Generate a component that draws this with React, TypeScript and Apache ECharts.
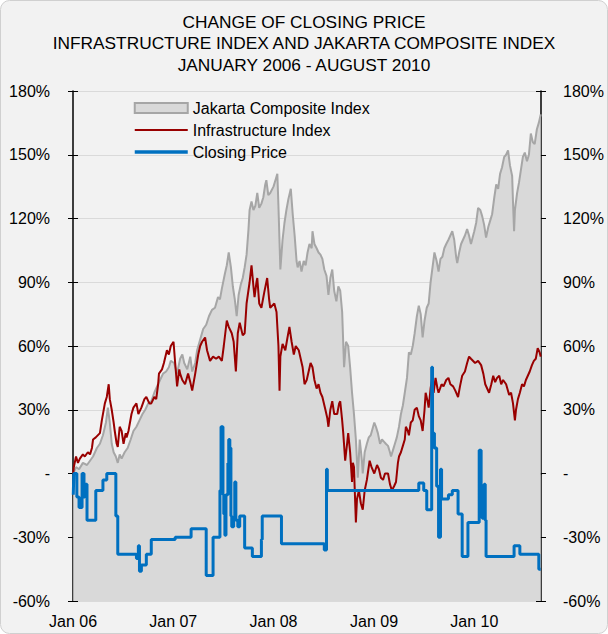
import React, { useEffect, useRef } from "react";
import * as echarts from "echarts";

const FONT = "'Liberation Sans', Arial, sans-serif";

const TITLE_LINES = [
  "CHANGE OF CLOSING PRICE",
  "INFRASTRUCTURE INDEX AND JAKARTA COMPOSITE INDEX",
  "JANUARY 2006 - AUGUST 2010",
];
const SERIES_NAMES = ["Jakarta Composite Index", "Infrastructure Index", "Closing Price"];

const X_MIN = "2006-01-01";
const X_MAX = "2010-09-01";
const X_TICKS = ["2006-01-01", "2007-01-01", "2008-01-01", "2009-01-01", "2010-01-01"];
const Y_MIN = -60;
const Y_MAX = 180;
const Y_STEP = 30;

// % change since January 2006
const jakartaComposite: [string, number][] = [
  ["2006-01-02", 0], ["2006-01-12", 3], ["2006-01-23", 2], ["2006-02-06", 5], ["2006-02-21", 4],
  ["2006-03-04", 6], ["2006-03-15", 8], ["2006-03-29", 12], ["2006-04-09", 14], ["2006-04-20", 18],
  ["2006-05-01", 24], ["2006-05-08", 31], ["2006-05-15", 24], ["2006-05-22", 14], ["2006-05-29", 10],
  ["2006-06-06", 8], ["2006-06-13", 5], ["2006-06-20", 9], ["2006-06-27", 7], ["2006-07-08", 10],
  ["2006-07-19", 12], ["2006-07-30", 16], ["2006-08-09", 20], ["2006-08-20", 22], ["2006-08-31", 25],
  ["2006-09-11", 28], ["2006-09-21", 30], ["2006-10-02", 33], ["2006-10-13", 34], ["2006-10-24", 38],
  ["2006-11-03", 41], ["2006-11-14", 44], ["2006-11-25", 47], ["2006-12-06", 48], ["2006-12-16", 50],
  ["2006-12-23", 53],
  ["2007-01-04", 52], ["2007-01-15", 47], ["2007-01-26", 54], ["2007-02-03", 56], ["2007-02-10", 52],
  ["2007-02-21", 49], ["2007-03-04", 55], ["2007-03-11", 48], ["2007-03-22", 52], ["2007-03-29", 58],
  ["2007-04-09", 63], ["2007-04-20", 68], ["2007-05-01", 70], ["2007-05-11", 74], ["2007-05-22", 77],
  ["2007-06-02", 78], ["2007-06-13", 83], ["2007-06-20", 82], ["2007-06-27", 87], ["2007-07-08", 94],
  ["2007-07-15", 98], ["2007-07-22", 104], ["2007-07-30", 97], ["2007-08-06", 88], ["2007-08-13", 82],
  ["2007-08-20", 74], ["2007-08-27", 84], ["2007-09-04", 89], ["2007-09-11", 92], ["2007-09-18", 97],
  ["2007-09-25", 103], ["2007-10-02", 115], ["2007-10-06", 124], ["2007-10-13", 128], ["2007-10-20", 124],
  ["2007-10-27", 126], ["2007-11-03", 132], ["2007-11-10", 125], ["2007-11-18", 127], ["2007-11-25", 130],
  ["2007-12-02", 136], ["2007-12-06", 138], ["2007-12-13", 131], ["2007-12-20", 132],
  ["2008-01-01", 135], ["2008-01-08", 138], ["2008-01-15", 141], ["2008-01-19", 126], ["2008-01-26", 96],
  ["2008-02-03", 110], ["2008-02-10", 118], ["2008-02-17", 124], ["2008-02-24", 129], ["2008-03-04", 134],
  ["2008-03-11", 122], ["2008-03-18", 112], ["2008-03-25", 100], ["2008-03-29", 97], ["2008-04-05", 100],
  ["2008-04-12", 95], ["2008-04-20", 100], ["2008-04-27", 98], ["2008-05-04", 104], ["2008-05-11", 108],
  ["2008-05-19", 106], ["2008-05-22", 114], ["2008-05-29", 108], ["2008-06-06", 106], ["2008-06-13", 104],
  ["2008-06-20", 103], ["2008-06-27", 101], ["2008-07-04", 96], ["2008-07-12", 93], ["2008-07-19", 84],
  ["2008-07-26", 92], ["2008-08-02", 96], ["2008-08-09", 86], ["2008-08-17", 81], ["2008-08-24", 88],
  ["2008-08-31", 86], ["2008-09-07", 76], ["2008-09-14", 50], ["2008-09-21", 62], ["2008-09-29", 60],
  ["2008-10-06", 50], ["2008-10-13", 38], ["2008-10-20", 28], ["2008-10-27", 16], ["2008-11-03", -2],
  ["2008-11-10", 16], ["2008-11-18", 6], ["2008-11-21", 0], ["2008-11-28", 10], ["2008-12-06", 14],
  ["2008-12-13", 17], ["2008-12-20", 18],
  ["2009-01-02", 24], ["2009-01-08", 22], ["2009-01-15", 19], ["2009-01-23", 14], ["2009-01-30", 16],
  ["2009-02-06", 15], ["2009-02-13", 14], ["2009-02-21", 13], ["2009-02-28", 10], ["2009-03-04", 8],
  ["2009-03-11", 11], ["2009-03-18", 14], ["2009-03-25", 17], ["2009-04-02", 22], ["2009-04-09", 28],
  ["2009-04-16", 32], ["2009-04-23", 38], ["2009-05-01", 45], ["2009-05-08", 57], ["2009-05-15", 56],
  ["2009-05-22", 60], ["2009-05-29", 66], ["2009-06-06", 74], ["2009-06-13", 79], ["2009-06-20", 75],
  ["2009-06-27", 64], ["2009-07-04", 72], ["2009-07-12", 78], ["2009-07-19", 80], ["2009-07-26", 90],
  ["2009-08-02", 97], ["2009-08-09", 104], ["2009-08-17", 100], ["2009-08-24", 95], ["2009-08-31", 101],
  ["2009-09-07", 102], ["2009-09-14", 106], ["2009-09-21", 108], ["2009-09-29", 110], ["2009-10-06", 112],
  ["2009-10-13", 114], ["2009-10-20", 110], ["2009-10-27", 102], ["2009-10-31", 99], ["2009-11-07", 104],
  ["2009-11-14", 108], ["2009-11-21", 110], ["2009-11-28", 112], ["2009-12-06", 115], ["2009-12-13", 112],
  ["2009-12-20", 108],
  ["2010-01-01", 114], ["2010-01-08", 118], ["2010-01-15", 125], ["2010-01-23", 124], ["2010-01-30", 121],
  ["2010-02-06", 117], ["2010-02-13", 111], ["2010-02-21", 116], ["2010-02-28", 119], ["2010-03-07", 122],
  ["2010-03-15", 130], ["2010-03-22", 136], ["2010-03-29", 134], ["2010-04-05", 141], ["2010-04-12", 144],
  ["2010-04-20", 149], ["2010-04-27", 150], ["2010-05-04", 152], ["2010-05-11", 145], ["2010-05-19", 140],
  ["2010-05-22", 128], ["2010-05-26", 114], ["2010-05-29", 124], ["2010-06-06", 132], ["2010-06-13", 137],
  ["2010-06-20", 143], ["2010-06-27", 149], ["2010-07-04", 151], ["2010-07-12", 147], ["2010-07-19", 150],
  ["2010-07-26", 160], ["2010-08-02", 156], ["2010-08-09", 155], ["2010-08-17", 162], ["2010-08-24", 165],
  ["2010-08-31", 169],
];

const infrastructureIndex: [string, number][] = [
  ["2006-01-02", 0], ["2006-01-04", 3], ["2006-01-12", 8], ["2006-01-19", 5], ["2006-01-26", 7],
  ["2006-02-06", 9], ["2006-02-13", 8], ["2006-02-24", 10], ["2006-03-04", 9], ["2006-03-11", 12],
  ["2006-03-15", 16], ["2006-03-25", 17], ["2006-04-09", 19], ["2006-04-16", 25], ["2006-04-27", 33],
  ["2006-05-04", 36], ["2006-05-11", 42], ["2006-05-15", 35], ["2006-05-22", 30], ["2006-05-29", 24],
  ["2006-06-02", 20], ["2006-06-09", 14], ["2006-06-13", 12.5], ["2006-06-20", 22], ["2006-06-27", 20],
  ["2006-07-04", 14], ["2006-07-12", 19], ["2006-07-15", 17], ["2006-07-22", 20], ["2006-08-02", 28],
  ["2006-08-09", 31], ["2006-08-20", 33], ["2006-08-27", 28], ["2006-09-07", 31], ["2006-09-18", 35],
  ["2006-09-25", 36], ["2006-10-06", 33], ["2006-10-13", 33], ["2006-10-24", 36], ["2006-10-31", 35],
  ["2006-11-07", 42], ["2006-11-10", 47], ["2006-11-21", 49], ["2006-11-28", 52], ["2006-12-09", 58],
  ["2006-12-16", 56], ["2006-12-23", 60],
  ["2007-01-02", 62], ["2007-01-08", 52], ["2007-01-15", 41], ["2007-01-23", 49], ["2007-01-26", 47],
  ["2007-02-03", 44], ["2007-02-13", 42], ["2007-02-24", 47], ["2007-03-04", 43], ["2007-03-11", 39],
  ["2007-03-22", 47], ["2007-04-02", 56], ["2007-04-09", 60], ["2007-04-16", 62], ["2007-04-27", 64],
  ["2007-05-04", 58], ["2007-05-15", 53], ["2007-05-26", 55], ["2007-06-06", 54], ["2007-06-16", 55],
  ["2007-06-27", 53], ["2007-07-04", 60], ["2007-07-15", 72], ["2007-07-22", 69], ["2007-08-02", 66],
  ["2007-08-09", 62], ["2007-08-17", 48], ["2007-08-24", 66], ["2007-08-31", 71], ["2007-09-11", 65],
  ["2007-09-18", 66], ["2007-09-25", 80], ["2007-10-06", 90], ["2007-10-13", 98], ["2007-10-20", 88],
  ["2007-10-24", 83], ["2007-10-31", 90], ["2007-11-03", 92], ["2007-11-10", 80], ["2007-11-18", 78],
  ["2007-11-28", 85], ["2007-12-09", 92], ["2007-12-16", 82], ["2007-12-20", 78],
  ["2008-01-04", 80], ["2008-01-12", 76], ["2008-01-19", 60], ["2008-01-23", 39], ["2008-01-26", 55],
  ["2008-02-03", 61], ["2008-02-13", 58], ["2008-02-21", 64], ["2008-02-28", 69], ["2008-03-07", 62],
  ["2008-03-15", 56], ["2008-03-22", 60], ["2008-04-02", 58], ["2008-04-09", 54], ["2008-04-16", 50],
  ["2008-04-23", 42], ["2008-05-01", 44], ["2008-05-08", 48], ["2008-05-15", 52], ["2008-05-22", 50],
  ["2008-05-29", 44], ["2008-06-06", 40], ["2008-06-13", 42], ["2008-06-20", 38], ["2008-06-27", 36],
  ["2008-07-08", 30], ["2008-07-15", 26], ["2008-07-19", 22], ["2008-07-26", 30], ["2008-08-02", 34],
  ["2008-08-09", 28], ["2008-08-20", 28], ["2008-08-27", 33], ["2008-08-31", 34], ["2008-09-07", 25],
  ["2008-09-11", 19], ["2008-09-18", 6], ["2008-09-25", 14], ["2008-09-29", 19], ["2008-10-06", 10],
  ["2008-10-13", -4], ["2008-10-16", 5], ["2008-10-20", 3], ["2008-10-27", -23], ["2008-10-31", -12],
  ["2008-11-07", -8], ["2008-11-14", -14], ["2008-11-21", -17], ["2008-11-28", -8], ["2008-12-06", -3],
  ["2008-12-16", 6], ["2008-12-23", 3],
  ["2009-01-02", 0], ["2009-01-12", 4], ["2009-01-19", 2], ["2009-01-26", -2], ["2009-02-03", -3],
  ["2009-02-10", 0], ["2009-02-21", 0], ["2009-02-28", -5], ["2009-03-07", -8], ["2009-03-15", -6],
  ["2009-03-22", -4], ["2009-03-29", 5], ["2009-04-02", 8], ["2009-04-09", 10], ["2009-04-16", 13],
  ["2009-04-23", 16], ["2009-04-27", 22], ["2009-05-04", 20], ["2009-05-08", 18], ["2009-05-15", 24],
  ["2009-05-22", 25], ["2009-05-29", 30], ["2009-06-06", 31], ["2009-06-13", 27], ["2009-06-20", 25],
  ["2009-06-27", 20], ["2009-07-04", 30], ["2009-07-08", 38], ["2009-07-15", 34], ["2009-07-19", 31],
  ["2009-07-26", 40], ["2009-08-02", 46], ["2009-08-06", 38], ["2009-08-13", 45], ["2009-08-20", 40],
  ["2009-08-24", 38], ["2009-09-04", 42], ["2009-09-11", 41], ["2009-09-21", 44], ["2009-09-29", 45],
  ["2009-10-06", 42], ["2009-10-16", 41], ["2009-10-24", 39], ["2009-11-03", 36], ["2009-11-10", 41],
  ["2009-11-18", 46], ["2009-11-28", 48], ["2009-12-06", 52], ["2009-12-13", 55], ["2009-12-20", 54],
  ["2010-01-04", 52], ["2010-01-15", 53], ["2010-01-26", 51], ["2010-02-03", 47], ["2010-02-10", 42],
  ["2010-02-17", 40], ["2010-02-24", 38], ["2010-03-04", 42], ["2010-03-11", 46], ["2010-03-18", 43],
  ["2010-03-25", 45], ["2010-04-02", 46], ["2010-04-09", 42], ["2010-04-16", 44], ["2010-04-27", 42],
  ["2010-05-08", 37], ["2010-05-15", 38], ["2010-05-22", 33], ["2010-05-29", 25], ["2010-06-02", 30],
  ["2010-06-09", 35], ["2010-06-16", 38], ["2010-06-24", 42], ["2010-07-01", 41], ["2010-07-08", 44],
  ["2010-07-15", 46], ["2010-07-22", 48], ["2010-07-30", 51], ["2010-08-06", 53], ["2010-08-13", 54],
  ["2010-08-20", 59], ["2010-08-27", 57], ["2010-08-31", 55],
];

// closing price: value held from each date until the next one
const closingPrice: [string, number][] = [
  ["2006-01-02", -10], ["2006-01-04", 0], ["2006-01-15", -11], ["2006-01-23", -16], ["2006-02-03", 0],
  ["2006-02-10", -11], ["2006-02-13", -5], ["2006-02-21", -22], ["2006-03-25", -8], ["2006-04-20", -3],
  ["2006-05-04", 0], ["2006-06-06", -20], ["2006-06-13", -38], ["2006-08-20", -40], ["2006-08-27", -34],
  ["2006-08-31", -46], ["2006-09-07", -43], ["2006-09-25", -38], ["2006-10-13", -31], ["2007-01-08", -30],
  ["2007-03-07", -26], ["2007-05-01", -48], ["2007-05-26", -30], ["2007-06-20", -8], ["2007-06-24", 22],
  ["2007-07-01", -10], ["2007-07-04", -19], ["2007-07-08", -29], ["2007-07-12", -10], ["2007-07-19", 5],
  ["2007-07-22", 16], ["2007-07-26", 12], ["2007-07-30", -20], ["2007-08-02", -25], ["2007-08-09", -22],
  ["2007-08-13", -4], ["2007-08-17", -22], ["2007-08-24", -25], ["2007-08-31", -20], ["2007-09-18", -35],
  ["2007-10-16", -39], ["2007-11-18", -31], ["2007-11-21", -20], ["2008-01-30", -33], ["2008-07-04", -36],
  ["2008-07-12", 2], ["2008-07-15", -8], ["2009-06-13", -4.5], ["2009-07-01", -8], ["2009-07-12", -17],
  ["2009-07-30", 50], ["2009-08-02", 19], ["2009-08-09", 12], ["2009-08-17", -6], ["2009-08-24", -30],
  ["2009-08-31", 2], ["2009-09-04", -12], ["2009-09-29", -10], ["2009-10-13", -8], ["2009-11-03", -19],
  ["2009-11-18", -39], ["2009-12-09", -23], ["2010-01-19", 11], ["2010-01-26", -8], ["2010-01-30", -21],
  ["2010-02-06", -5], ["2010-02-10", -22], ["2010-02-13", -39], ["2010-05-26", -34], ["2010-06-16", -38],
  ["2010-08-24", -45], ["2010-08-31", -45],
];

const ts = (s: string) => {
  const [y, m, d] = s.split("-").map(Number);
  return new Date(y, m - 1, d).getTime();
};
const toData = (arr: [string, number][]) => arr.map(([d, v]) => [ts(d), v]);

export default function App() {
  const ref = useRef<HTMLDivElement>(null);

  useEffect(() => {
    if (!ref.current) return;
    const chart = echarts.init(ref.current, undefined, { renderer: "svg" });
    const tickValues = X_TICKS.map(ts);
    const yFmt = (v: number) => (v === 0 ? "-" : `${v}%`);
    const xFmt = (v: number) => {
      const d = new Date(v);
      return "Jan " + String(d.getFullYear() % 100).padStart(2, "0");
    };
    const yBase = { type: "value", min: Y_MIN, max: Y_MAX, interval: Y_STEP };
    const xBase = { type: "value", min: ts(X_MIN), max: ts(X_MAX), scale: true };

    chart.setOption({
      animation: false,
      backgroundColor: "transparent",
      textStyle: { fontFamily: FONT },
      graphic: [
        {
          type: "rect",
          z: -10,
          silent: true,
          shape: { x: 0.5, y: 0.5, width: 607, height: 633, r: 9 },
          style: { fill: "#f2f2f2", stroke: "#d0d0d0", lineWidth: 1 },
        },
      ],
      title: {
        text: TITLE_LINES.join("\n"),
        left: "center",
        top: 11,
        padding: 0,
        textStyle: { fontSize: 17.3, fontWeight: "normal", color: "#000", lineHeight: 21.5, fontFamily: FONT },
      },
      legend: {
        orient: "vertical",
        left: 133,
        top: 100,
        padding: 0,
        itemWidth: 53,
        itemHeight: 10,
        itemGap: 6,
        selectedMode: false,
        textStyle: { fontSize: 16, color: "#000", lineHeight: 16, fontFamily: FONT },
        data: [
          { name: SERIES_NAMES[0], icon: "rect", itemStyle: { color: "#d9d9d9", borderColor: "#a6a6a6", borderWidth: 2 } },
          { name: SERIES_NAMES[1], icon: "line", itemStyle: { color: "#990000", borderColor: "#990000", borderWidth: 2 } },
          { name: SERIES_NAMES[2], icon: "line", itemStyle: { color: "#0070c0", borderColor: "#0070c0", borderWidth: 3.5 } },
        ],
      },
      grid: { left: 73, right: 67, top: 91, bottom: 33 },
      xAxis: [
        {
          ...xBase,
          position: "bottom",
          axisLine: { show: true, lineStyle: { color: "#000", width: 1.5 } },
          axisTick: { show: true, length: 5, lineStyle: { color: "#000" }, customValues: tickValues },
          axisLabel: { customValues: tickValues, formatter: xFmt, fontSize: 16, color: "#000", margin: 12, fontFamily: FONT },
          splitLine: { show: false },
        },
        {
          ...xBase,
          position: "bottom",
          axisLine: { show: false },
          axisTick: { show: true, inside: true, length: 5, lineStyle: { color: "#000" }, customValues: tickValues },
          axisLabel: { show: false },
          splitLine: { show: false },
        },
        {
          ...xBase,
          position: "top",
          axisLine: { show: true, lineStyle: { color: "#7f7f7f", width: 1 } },
          axisTick: { show: false },
          axisLabel: { show: false },
          splitLine: { show: false },
        },
      ],
      yAxis: [
        {
          ...yBase,
          position: "left",
          axisLine: { show: true, lineStyle: { color: "#000", width: 1.5 } },
          axisTick: { show: true, length: 5, lineStyle: { color: "#000" } },
          axisLabel: { formatter: yFmt, fontSize: 16, color: "#000", margin: 23, fontFamily: FONT },
          splitLine: { show: true, lineStyle: { color: "#dadada", width: 1 } },
        },
        {
          ...yBase,
          position: "right",
          axisLine: { show: true, lineStyle: { color: "#000", width: 1.5 } },
          axisTick: { show: true, length: 5, lineStyle: { color: "#000" } },
          axisLabel: { formatter: yFmt, fontSize: 16, color: "#000", margin: 22, fontFamily: FONT },
          splitLine: { show: false },
        },
        {
          ...yBase,
          position: "left",
          axisLine: { show: false },
          axisTick: { show: true, inside: true, length: 5, lineStyle: { color: "#000" } },
          axisLabel: { show: false },
          splitLine: { show: false },
        },
        {
          ...yBase,
          position: "right",
          axisLine: { show: false },
          axisTick: { show: true, inside: true, length: 5, lineStyle: { color: "#000" } },
          axisLabel: { show: false },
          splitLine: { show: false },
        },
      ],
      series: [
        {
          name: SERIES_NAMES[0],
          type: "line",
          xAxisIndex: 0,
          yAxisIndex: 0,
          data: toData(jakartaComposite),
          symbol: "none",
          z: 2,
          itemStyle: { color: "#a6a6a6" },
          lineStyle: { color: "#a6a6a6", width: 2 },
          areaStyle: { color: "#d9d9d9", opacity: 1, origin: "start" },
        },
        {
          name: SERIES_NAMES[1],
          type: "line",
          xAxisIndex: 0,
          yAxisIndex: 0,
          data: toData(infrastructureIndex),
          symbol: "none",
          z: 3,
          itemStyle: { color: "#990000" },
          lineStyle: { color: "#990000", width: 2 },
        },
        {
          name: SERIES_NAMES[2],
          type: "line",
          xAxisIndex: 0,
          yAxisIndex: 0,
          step: "end",
          data: toData(closingPrice),
          symbol: "none",
          z: 4,
          itemStyle: { color: "#0070c0" },
          lineStyle: { color: "#0070c0", width: 3 },
        },
      ],
    });
    return () => chart.dispose();
  }, []);

  return (
    <div style={{ position: "fixed", left: 0, top: 0, width: 608, height: 634, background: "#fff" }}>
      <div ref={ref} style={{ width: 608, height: 634 }} />
    </div>
  );
}
